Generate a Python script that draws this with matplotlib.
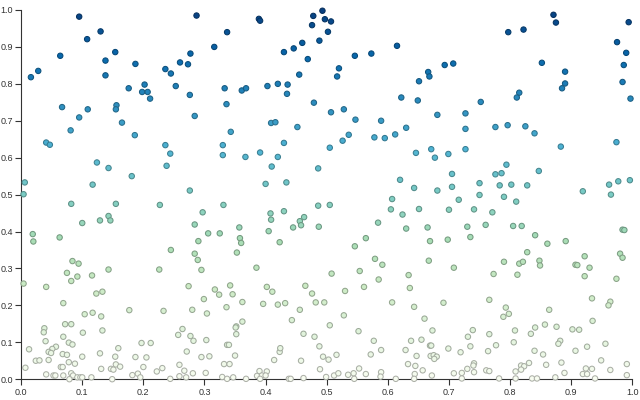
import numpy as np
import matplotlib
matplotlib.use("Agg")
import matplotlib.pyplot as plt
from matplotlib import colors

plt.rcParams['font.family'] = ['Liberation Sans', 'DejaVu Sans']

# points, x then y
x_vals = [
    # left, top
    0.095, 0.108, 0.130, 0.064, 0.016, 0.028, 0.138, 0.138, 0.154, 0.187,
    0.176, 0.202, 0.198, 0.207, 0.211, 0.236, 0.245, 0.253, 0.260, 0.067,
    0.109, 0.095, 0.081, 0.156, 0.155, 0.165, 0.186, 0.041, 0.047, 0.236,
    0.244, 0.238, 0.124, 0.143, 0.117, 0.181, 0.006, 0.004,
    # left, bottom
    0.082, 0.155, 0.227, 0.100, 0.129, 0.143, 0.146, 0.019, 0.020, 0.063,
    0.245, 0.084, 0.094, 0.075, 0.092, 0.082, 0.116, 0.143, 0.226, 0.004,
    0.041, 0.123, 0.133, 0.069, 0.104, 0.117, 0.131, 0.177, 0.233, 0.072,
    0.082, 0.038, 0.037, 0.101, 0.133, 0.069, 0.257, 0.040, 0.013, 0.078,
    0.084, 0.057, 0.051, 0.045, 0.049, 0.068, 0.075, 0.129, 0.159, 0.197,
    0.212, 0.100, 0.154, 0.187, 0.205, 0.024, 0.030, 0.045, 0.078, 0.088,
    0.065, 0.068, 0.007, 0.131, 0.147, 0.151, 0.155, 0.162, 0.200, 0.231,
    0.222, 0.041, 0.053, 0.056, 0.069, 0.082, 0.085, 0.092, 0.097, 0.100,
    0.115, 0.182, 0.191, 0.195, 0.079, 0.149, 0.244, 0.259, 0.259,
    # middle-left, top
    0.287, 0.337, 0.389, 0.391, 0.316, 0.277, 0.273, 0.276, 0.284, 0.333,
    0.336, 0.361, 0.368, 0.403, 0.420, 0.436, 0.435, 0.430, 0.446, 0.460,
    0.469, 0.455, 0.478, 0.476, 0.493, 0.497, 0.507, 0.502, 0.488, 0.520,
    0.517, 0.479, 0.507, 0.409, 0.416, 0.452, 0.343, 0.330, 0.330, 0.367,
    0.391, 0.430, 0.420, 0.505, 0.410, 0.486, 0.276, 0.400, 0.434,
    # middle-left, bottom
    0.331, 0.297, 0.284, 0.306, 0.325, 0.290, 0.284, 0.289, 0.295, 0.357,
    0.358, 0.360, 0.353, 0.385, 0.408, 0.409, 0.405, 0.423, 0.430, 0.445,
    0.456, 0.463, 0.458, 0.486, 0.505, 0.487, 0.508, 0.274, 0.317, 0.324,
    0.342, 0.346, 0.299, 0.280, 0.304, 0.336, 0.362, 0.402, 0.411, 0.396,
    0.420, 0.432, 0.465, 0.476, 0.482, 0.496, 0.456, 0.443, 0.505, 0.264,
    0.277, 0.282, 0.303, 0.362, 0.352, 0.351, 0.352, 0.337, 0.340, 0.271,
    0.295, 0.308, 0.350, 0.332, 0.341, 0.267, 0.270, 0.281, 0.302, 0.329,
    0.337, 0.347, 0.368, 0.386, 0.390, 0.394, 0.402, 0.400, 0.391, 0.414,
    0.423, 0.424, 0.438, 0.441, 0.462, 0.458, 0.480, 0.488, 0.494, 0.503,
    0.516, 0.489, 0.462, 0.499, 0.512, 0.519,
    # middle-right, top
    0.546, 0.573, 0.615, 0.666, 0.668, 0.651, 0.693, 0.707, 0.622, 0.649,
    0.752, 0.528, 0.547, 0.589, 0.681, 0.727, 0.630, 0.727, 0.536, 0.526,
    0.578, 0.595, 0.612, 0.646, 0.671, 0.677, 0.699, 0.727, 0.705, 0.620,
    0.643, 0.681, 0.705, 0.750, 0.750, 0.607, 0.716,
    # middle-right, bottom
    0.605, 0.624, 0.651, 0.700, 0.741, 0.760, 0.584, 0.630, 0.665, 0.730,
    0.735, 0.564, 0.546, 0.669, 0.698, 0.579, 0.591, 0.667, 0.708, 0.554,
    0.585, 0.634, 0.636, 0.561, 0.530, 0.607, 0.643, 0.691, 0.766, 0.528,
    0.660, 0.552, 0.673, 0.739, 0.731, 0.766, 0.577, 0.638, 0.655, 0.669,
    0.671, 0.589, 0.629, 0.699, 0.735, 0.764, 0.572, 0.647, 0.670, 0.675,
    0.680, 0.676, 0.719, 0.633, 0.645, 0.657, 0.741, 0.740, 0.730, 0.741,
    0.761, 0.553, 0.544, 0.535, 0.564, 0.589, 0.588, 0.644, 0.672, 0.708,
    0.721, 0.545, 0.613, 0.643, 0.721,
    # right, top
    0.871, 0.875, 0.797, 0.822, 0.994, 0.975, 0.990, 0.986, 0.984, 0.997,
    0.852, 0.890, 0.890, 0.885, 0.815, 0.811, 0.776, 0.796, 0.825, 0.840,
    0.883, 0.974, 0.794, 0.776, 0.786, 0.847, 0.783, 0.802, 0.828, 0.962,
    0.977, 0.996, 0.790, 0.919, 0.965,
    # right, bottom
    0.810, 0.771, 0.805, 0.819, 0.841, 0.861, 0.891, 0.984, 0.987, 0.828,
    0.790, 0.815, 0.821, 0.848, 0.849, 0.812, 0.773, 0.907, 0.910, 0.922,
    0.930, 0.922, 0.980, 0.984, 0.974, 0.793, 0.798, 0.789, 0.864, 0.934,
    0.964, 0.961, 0.935, 0.808, 0.841, 0.857, 0.834, 0.876, 0.902, 0.913,
    0.806, 0.777, 0.882, 0.879, 0.926, 0.956, 0.840, 0.854, 0.907, 0.949,
    0.831, 0.859, 0.884, 0.818, 0.823, 0.818, 0.809, 0.766, 0.889, 0.924,
    0.934, 0.964, 0.991, 0.919, 0.926, 0.991, 0.782, 0.809, 0.836, 0.844,
    0.874, 0.939,
]

y_vals = [
    # left, top
    0.982, 0.921, 0.942, 0.876, 0.818, 0.835, 0.863, 0.823, 0.886, 0.854,
    0.788, 0.798, 0.778, 0.778, 0.760, 0.840, 0.828, 0.794, 0.858, 0.737,
    0.731, 0.709, 0.674, 0.742, 0.731, 0.695, 0.661, 0.641, 0.635, 0.634,
    0.611, 0.578, 0.587, 0.572, 0.527, 0.550, 0.533, 0.501,
    # left, bottom
    0.475, 0.475, 0.472, 0.423, 0.430, 0.442, 0.430, 0.393, 0.373, 0.384,
    0.350, 0.320, 0.313, 0.288, 0.278, 0.266, 0.281, 0.297, 0.297, 0.259,
    0.250, 0.232, 0.237, 0.206, 0.176, 0.180, 0.170, 0.187, 0.185, 0.149,
    0.149, 0.138, 0.127, 0.126, 0.132, 0.115, 0.120, 0.103, 0.081, 0.099,
    0.094, 0.088, 0.082, 0.074, 0.071, 0.068, 0.066, 0.070, 0.084, 0.098,
    0.098, 0.061, 0.061, 0.060, 0.059, 0.050, 0.051, 0.052, 0.046, 0.042,
    0.033, 0.033, 0.031, 0.028, 0.028, 0.026, 0.040, 0.034, 0.033, 0.030,
    0.021, 0.013, 0.010, 0.010, 0.010, 0.016, 0.010, 0.005, 0.005, 0.005,
    0.005, 0.011, 0.015, 0.005, 0.000, 0.000, 0.001, 0.008, 0.039,
    # middle-left, top
    0.985, 0.940, 0.976, 0.971, 0.900, 0.882, 0.853, 0.770, 0.713, 0.788,
    0.745, 0.782, 0.788, 0.794, 0.800, 0.798, 0.773, 0.886, 0.896, 0.911,
    0.867, 0.825, 0.984, 0.959, 0.998, 0.975, 0.969, 0.941, 0.917, 0.842,
    0.820, 0.749, 0.723, 0.694, 0.696, 0.683, 0.670, 0.634, 0.607, 0.602,
    0.614, 0.640, 0.602, 0.627, 0.576, 0.571, 0.511, 0.529, 0.533,
    # middle-left, bottom
    0.472, 0.452, 0.419, 0.395, 0.395, 0.374, 0.340, 0.323, 0.296, 0.411,
    0.382, 0.369, 0.343, 0.302, 0.449, 0.432, 0.401, 0.371, 0.455, 0.411,
    0.428, 0.439, 0.417, 0.470, 0.472, 0.413, 0.286, 0.252, 0.243, 0.229,
    0.254, 0.230, 0.217, 0.188, 0.178, 0.195, 0.209, 0.250, 0.237, 0.204,
    0.202, 0.206, 0.253, 0.232, 0.208, 0.208, 0.188, 0.160, 0.146, 0.136,
    0.117, 0.104, 0.106, 0.156, 0.143, 0.140, 0.122, 0.093, 0.093, 0.075,
    0.060, 0.062, 0.064, 0.041, 0.041, 0.023, 0.005, 0.016, 0.017, 0.006,
    0.001, 0.005, 0.001, 0.009, 0.022, 0.010, 0.021, 0.010, 0.001, 0.052,
    0.074, 0.084, 0.001, 0.001, 0.123, 0.050, 0.115, 0.089, 0.061, 0.053,
    0.066, 0.027, 0.003, 0.006, 0.010, 0.016,
    # middle-right, top
    0.876, 0.882, 0.903, 0.832, 0.820, 0.807, 0.851, 0.855, 0.763, 0.755,
    0.751, 0.731, 0.703, 0.700, 0.716, 0.720, 0.681, 0.678, 0.662, 0.646,
    0.655, 0.653, 0.663, 0.613, 0.623, 0.600, 0.610, 0.623, 0.556, 0.540,
    0.518, 0.511, 0.521, 0.531, 0.499, 0.488, 0.486,
    # middle-right, bottom
    0.460, 0.446, 0.461, 0.459, 0.460, 0.418, 0.424, 0.408, 0.411, 0.413,
    0.385, 0.382, 0.360, 0.374, 0.378, 0.326, 0.310, 0.321, 0.302, 0.293,
    0.270, 0.282, 0.247, 0.250, 0.239, 0.208, 0.196, 0.207, 0.215, 0.173,
    0.164, 0.130, 0.132, 0.133, 0.115, 0.122, 0.104, 0.104, 0.107, 0.091,
    0.091, 0.079, 0.079, 0.083, 0.089, 0.076, 0.067, 0.063, 0.063, 0.065,
    0.061, 0.055, 0.073, 0.041, 0.036, 0.024, 0.043, 0.037, 0.028, 0.019,
    0.024, 0.029, 0.016, 0.012, 0.014, 0.019, 0.007, 0.014, 0.010, 0.016,
    0.017, 0.001, 0.001, 0.001, 0.002,
    # right, top
    0.987, 0.966, 0.940, 0.947, 0.967, 0.913, 0.884, 0.851, 0.805, 0.760,
    0.857, 0.833, 0.801, 0.788, 0.776, 0.763, 0.683, 0.688, 0.685, 0.666,
    0.630, 0.642, 0.581, 0.555, 0.558, 0.564, 0.525, 0.527, 0.525, 0.527,
    0.536, 0.539, 0.494, 0.509, 0.500,
    # right, bottom
    0.481, 0.452, 0.415, 0.415, 0.390, 0.367, 0.374, 0.405, 0.404, 0.344,
    0.318, 0.313, 0.318, 0.321, 0.308, 0.283, 0.285, 0.310, 0.309, 0.333,
    0.302, 0.279, 0.340, 0.329, 0.272, 0.194, 0.177, 0.169, 0.188, 0.219,
    0.210, 0.200, 0.158, 0.132, 0.140, 0.148, 0.123, 0.142, 0.135, 0.134,
    0.100, 0.092, 0.104, 0.096, 0.088, 0.096, 0.077, 0.067, 0.077, 0.051,
    0.044, 0.039, 0.045, 0.037, 0.035, 0.026, 0.021, 0.022, 0.017, 0.029,
    0.028, 0.025, 0.041, 0.014, 0.014, 0.011, 0.002, 0.002, 0.002, 0.002,
    0.005, 0.002,
]

x = np.array(x_vals)
y = np.array(y_vals)

cmap = plt.get_cmap('GnBu')
fill = cmap(y)
edge = fill.copy()
edge[:, :3] = edge[:, :3] * 0.7  # stroke darker than the fill

fig = plt.figure(figsize=(6.4, 4.0), dpi=100)
ax = fig.add_axes([0.033, 0.052, 0.955, 0.923])
ax.scatter(x, y, s=15, c=fill, edgecolors=edge, linewidths=0.75, clip_on=False, zorder=3)

ticks = np.arange(0, 1.01, 0.1)
ax.set_xlim(0, 1)
ax.set_ylim(0, 1)
ax.set_xticks(ticks)
ax.set_yticks(ticks)
ax.set_xticklabels([f"{v:.1f}" for v in ticks])
ax.set_yticklabels([f"{v:.1f}" for v in ticks])
ax.tick_params(labelsize=6.5, length=4.5, width=0.8, colors='#333333', pad=1.5)
for side in ['top', 'right']:
    ax.spines[side].set_visible(False)
for side in ['left', 'bottom']:
    ax.spines[side].set_color('#333333')
    ax.spines[side].set_linewidth(0.8)

fig.savefig('out.png', dpi=100)
